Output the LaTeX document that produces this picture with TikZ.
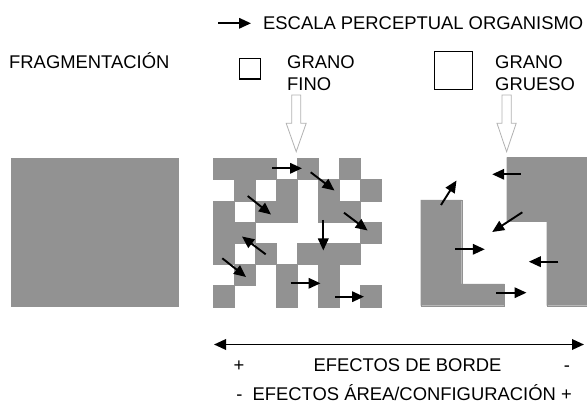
\documentclass[tikz,border=0pt]{standalone}
\usepackage{fontspec}
\setmainfont{Liberation Sans}
\usetikzlibrary{arrows.meta}
\definecolor{patch}{RGB}{146,146,146}
\definecolor{hollow}{RGB}{178,178,178}
\begin{document}
\begin{tikzpicture}[x=1pt,y=-1pt,
  lbl/.style={font=\fontsize{18.4}{22}\selectfont, inner sep=0pt, anchor=base west},
  lblc/.style={font=\fontsize{18.4}{22}\selectfont, inner sep=0pt, anchor=base},
  arr/.style={line width=1.9pt, -{Triangle[length=12pt,width=10.5pt]}},
  dblarr/.style={line width=1.9pt, {Triangle[length=12pt,width=10.5pt]}-{Triangle[length=12pt,width=10.5pt]}},
  patchcell/.style={fill=patch, draw=patch, line width=0.3pt},
  hollowarr/.style={draw=hollow, line width=0.8pt, fill=white},
  legendbox/.style={draw=black, line width=1.2pt}]
\useasboundingbox (0,0) rectangle (587,411);

% legend
\coordinate (legS) at (218.3,23.3);
\coordinate (legE) at (251,23.3);
\draw[arr] (legS) -- (legE);
\node[lbl] (escala) at (263,29.5) {ESCALA PERCEPTUAL ORGANISMO};

\node[lbl] (frag) at (9,68.5) {FRAGMENTACIÓN};

\draw[legendbox] (239.3,58.3) rectangle (260.7,79);
\node[lbl] (grano1) at (287,69) {GRANO};
\node[lbl] (fino) at (287,91) {FINO};

\draw[legendbox] (434.3,51.7) rectangle (472.7,89.3);
\node[lbl] (grano2) at (495,69) {GRANO};
\node[lbl] (grueso) at (495,91) {GRUESO};

% hollow arrows
\draw[hollowarr] (291.7,95) -- (300.7,95) -- (300.7,123.3) -- (306.2,123.3) -- (296.2,151.7)
  -- (286.2,123.3) -- (291.7,123.3) -- cycle;
\draw[hollowarr] (502,95) -- (511.2,95) -- (511.2,123.3) -- (516.2,123.3) -- (506.6,151.7)
  -- (497,123.3) -- (502,123.3) -- cycle;

% continuous habitat
\fill[patch] (11,158.5) rectangle (179,307);

% fine grain
\foreach \c/\r in {0/0,1/0,2/0,4/0,6/0,
                   1/1,3/1,5/1,7/1,
                   0/2,2/2,3/2,5/2,6/2,
                   0/3,1/3,7/3,
                   0/4,2/4,4/4,5/4,6/4,
                   1/5,3/5,5/5,
                   0/6,3/6,5/6,7/6}
  \filldraw[patchcell] ({213.5+21*\c},{158.3+21.2*\r}) rectangle ++(21,21.2);

% coarse grain
\filldraw[patchcell] (420.7,200) -- (461.7,200) -- (461.7,284) -- (504.3,284)
  -- (504.3,305.7) -- (420.7,305.7) -- cycle;
\filldraw[patchcell] (506.7,157.3) -- (587,157.3) -- (587,305.7) -- (546.7,305.7)
  -- (546.7,221) -- (506.7,221) -- cycle;

% movement arrows, fine grain
\foreach \n/\sx/\sy/\ex/\ey in {
  1/272.3/168.3/302/168.3,
  2/310.7/172.3/334.5/190.5,
  3/247.7/196/271/214.5,
  4/344/212.7/367.6/230.5,
  5/323.3/220/323.3/250.5,
  6/265.7/254.3/242/236.5,
  7/222.3/258.3/246/277,
  8/290.7/283.3/320.5/283.3,
  9/335/296.7/364/296.7}{
  \coordinate (f\n s) at (\sx,\sy);
  \coordinate (f\n e) at (\ex,\ey);
  \draw[arr] (f\n s) -- (f\n e);
}

% movement arrows, coarse grain
\foreach \n/\sx/\sy/\ex/\ey in {
  1/441/205/456.5/180.5,
  2/520.7/174.3/492.2/174.3,
  3/522.3/212.3/492.2/232,
  4/455/249.3/484.8/249.3,
  5/558.3/261.7/528.8/261.7,
  6/496/292.7/526.5/292.7}{
  \coordinate (g\n s) at (\sx,\sy);
  \coordinate (g\n e) at (\ex,\ey);
  \draw[arr] (g\n s) -- (g\n e);
}

% bottom scale
\coordinate (scL) at (214,344.5);
\coordinate (scR) at (584,344.5);
\draw[dblarr] (scL) -- (scR);
\node[lblc] (plus1) at (239,372) {+};
\node[lblc] (borde) at (407.5,372) {EFECTOS DE BORDE};
\node[lblc] (minus1) at (567,372) {-};
\node[lblc] (area) at (404,401) {- \ EFECTOS ÁREA/CONFIGURACIÓN +};
\end{tikzpicture}
\end{document}
